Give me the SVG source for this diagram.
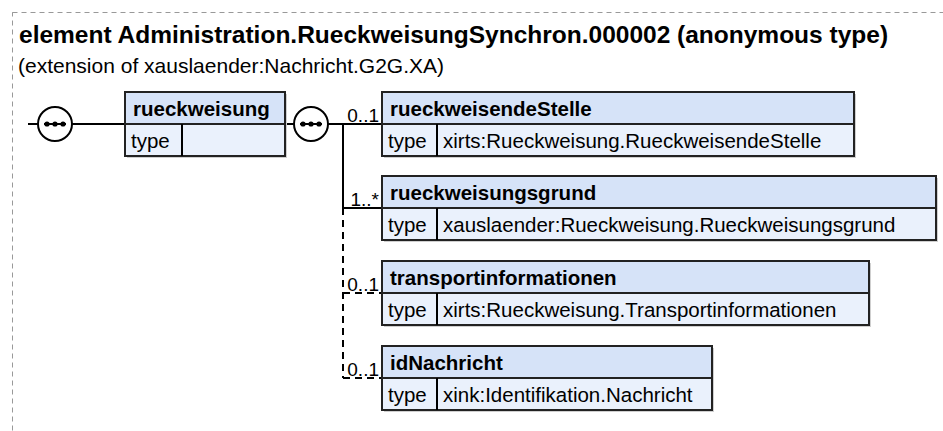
<svg xmlns="http://www.w3.org/2000/svg" width="943" height="431" viewBox="0 0 943 431">
<defs>
<style>
text{font-family:"Liberation Sans",Arial,sans-serif;fill:#000}
.title{font-size:24.5px;font-weight:bold}
.sub{font-size:21px}
.name{font-size:20.5px;font-weight:bold}
.type{font-size:20.5px}
.mult{font-size:19px}
.hdr{fill:#d6e3f8;stroke:#222;stroke-width:2}
.body{fill:#eaf1fc;stroke:#222;stroke-width:2}
.shadow{fill:#cfcfcf}
.ln{stroke:#000;stroke-width:2;fill:none}
.dash{stroke:#000;stroke-width:2;fill:none;stroke-dasharray:7,5}
.comp{fill:#fff;stroke:#000;stroke-width:2}
.dot{fill:#000}
</style>
<g id="compositor">
<circle class="comp" cx="0" cy="0" r="17"/>
<line x1="-11" y1="0" x2="11" y2="0" stroke="#000" stroke-width="2"/>
<circle class="dot" cx="-8" cy="0" r="2.6"/>
<circle class="dot" cx="0" cy="0" r="2.6"/>
<circle class="dot" cx="8" cy="0" r="2.6"/>
</g>
</defs>
<rect x="12.5" y="12.5" width="1000" height="1000" fill="#fff" stroke="#999" stroke-width="1" stroke-dasharray="5,4"/>
<text class="title" x="19" y="43">element Administration.RueckweisungSynchron.000002 (anonymous type)</text>
<text class="sub" x="18" y="73">(extension of xauslaender:Nachricht.G2G.XA)</text>

<g id="connectors">
<line class="ln" x1="28" y1="124" x2="38" y2="124"/>
<line class="ln" x1="72" y1="124" x2="125" y2="124"/>
<line class="ln" x1="285" y1="124" x2="294" y2="124"/>
<line class="ln" x1="328" y1="124" x2="382" y2="124"/>
<line class="ln" x1="343" y1="124" x2="343" y2="208"/>
<line class="ln" x1="343" y1="208" x2="382" y2="208"/>
<line class="dash" x1="343" y1="208" x2="343" y2="378"/>
<line class="dash" x1="343" y1="293" x2="382" y2="293"/>
<line class="dash" x1="343" y1="378" x2="382" y2="378"/>
<text class="mult" x="379" y="122" text-anchor="end">0..1</text>
<text class="mult" x="379" y="206" text-anchor="end">1..*</text>
<text class="mult" x="379" y="291" text-anchor="end">0..1</text>
<text class="mult" x="379" y="376" text-anchor="end">0..1</text>
</g>

<g id="seq-left"><use href="#compositor" x="55" y="124"/></g>
<g id="seq-right"><use href="#compositor" x="311" y="124"/></g>

<g id="node-rueckweisung">
<rect class="shadow" x="127" y="94" width="160" height="64"/>
<rect class="hdr" x="125" y="92" width="160" height="32"/>
<rect class="body" x="125" y="124" width="160" height="32"/>
<line class="ln" x1="182" y1="124" x2="182" y2="156"/>
<text class="name" x="133" y="116">rueckweisung</text>
<text class="type" x="131" y="148">type</text>
</g>

<g id="node-rueckweisendeStelle">
<rect class="shadow" x="384" y="94" width="472" height="64"/>
<rect class="hdr" x="382" y="92" width="472" height="32"/>
<rect class="body" x="382" y="124" width="472" height="32"/>
<line class="ln" x1="437" y1="124" x2="437" y2="156"/>
<text class="name" x="390" y="116">rueckweisendeStelle</text>
<text class="type" x="388" y="148">type</text>
<text class="type" x="443" y="148">xirts:Rueckweisung.RueckweisendeStelle</text>
</g>

<g id="node-rueckweisungsgrund">
<rect class="shadow" x="384" y="178" width="554" height="64"/>
<rect class="hdr" x="382" y="176" width="554" height="32"/>
<rect class="body" x="382" y="208" width="554" height="32"/>
<line class="ln" x1="437" y1="208" x2="437" y2="240"/>
<text class="name" x="390" y="200">rueckweisungsgrund</text>
<text class="type" x="388" y="232">type</text>
<text class="type" x="443" y="232">xauslaender:Rueckweisung.Rueckweisungsgrund</text>
</g>

<g id="node-transportinformationen">
<rect class="shadow" x="384" y="263" width="487" height="64"/>
<rect class="hdr" x="382" y="261" width="487" height="32"/>
<rect class="body" x="382" y="293" width="487" height="32"/>
<line class="ln" x1="437" y1="293" x2="437" y2="325"/>
<text class="name" x="390" y="285">transportinformationen</text>
<text class="type" x="388" y="317">type</text>
<text class="type" x="443" y="317">xirts:Rueckweisung.Transportinformationen</text>
</g>

<g id="node-idNachricht">
<rect class="shadow" x="384" y="348" width="330" height="64"/>
<rect class="hdr" x="382" y="346" width="330" height="32"/>
<rect class="body" x="382" y="378" width="330" height="32"/>
<line class="ln" x1="437" y1="378" x2="437" y2="410"/>
<text class="name" x="390" y="370">idNachricht</text>
<text class="type" x="388" y="402">type</text>
<text class="type" x="443" y="402">xink:Identifikation.Nachricht</text>
</g>
</svg>
